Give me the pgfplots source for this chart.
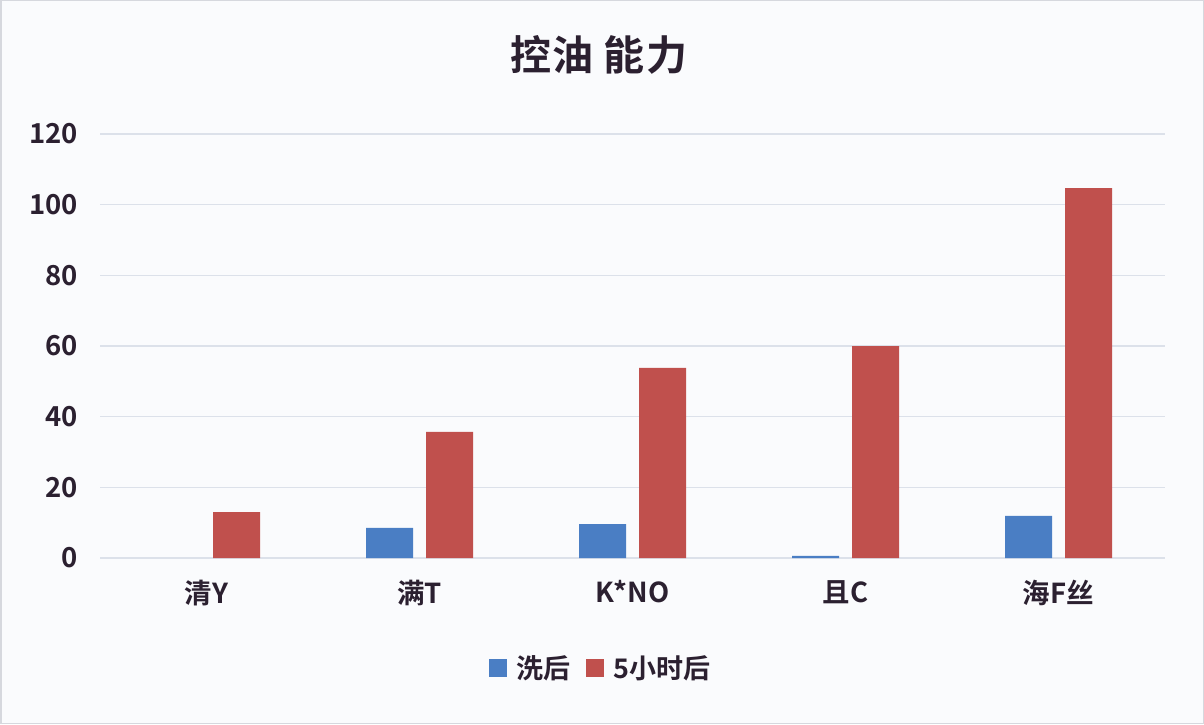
\documentclass[border=0pt]{standalone}
\usepackage{fontspec}
\setmainfont{Noto Sans CJK SC}[BoldFont={Noto Sans CJK SC Bold}]
\usepackage{pgfplots}
\pgfplotsset{compat=1.18}
\definecolor{bgc}{HTML}{FAFBFD}
\definecolor{framec}{HTML}{D6D8DE}
\definecolor{gridc}{HTML}{DCE1EA}
\definecolor{txtc}{HTML}{2B2030}
\definecolor{bluec}{HTML}{4A7EC4}
\definecolor{redc}{HTML}{C0504D}
\begin{document}
\begin{tikzpicture}
\path[fill=bgc, draw=framec, line width=1.5pt] (0.75pt,0.75pt) rectangle (1203.25pt,723.25pt);
\node[font=\fontsize{41}{46}\selectfont\bfseries, text=txtc, anchor=center] at (599pt,669pt) {控\hspace{2pt}油\hspace{10pt}能\hspace{2pt}力};
\begin{axis}[
  at={(100pt,166pt)}, anchor=south west,
  scale only axis, width=1065pt, height=424pt,
  xmin=-0.5, xmax=4.5, ymin=0, ymax=120,
  ytick={0,20,...,120},
  xtick={0,1,2,3,4},
  xticklabels={清Y,满T,K*NO,且C,海F丝},
  axis line style={draw=none},
  major tick length=0pt,
  ymajorgrids, grid style={gridc, line width=1.5pt},
  /pgf/number format/assume math mode=true,
  ticklabel style={font=\fontsize{27.5}{31}\selectfont\bfseries, text=txtc, inner sep=0pt},
  yticklabel style={anchor=east, xshift=-22pt},
  xticklabel style={anchor=north, yshift=-22pt},
  ybar=13pt, bar width=47pt,
  legend columns=2,
  legend style={at={(0.470,-0.259)}, anchor=center, draw=none, fill=none,
    font=\fontsize{27}{31}\selectfont\bfseries, text=txtc,
    /tikz/every odd column/.append style={column sep=7pt},
    /tikz/every even column/.append style={column sep=14pt}},
  legend image code/.code={\fill[#1] (0pt,-9pt) rectangle (18pt,9pt);},
]
\addplot[fill=bluec, draw=none] coordinates {(1,8.5) (2,9.6) (3,0.6) (4,11.9)};
\addplot[fill=redc, draw=none] coordinates {(0,13.0) (1,35.7) (2,53.8) (3,60.0) (4,104.7)};
\legend{洗后,5小时后}
\end{axis}
\end{tikzpicture}
\end{document}
